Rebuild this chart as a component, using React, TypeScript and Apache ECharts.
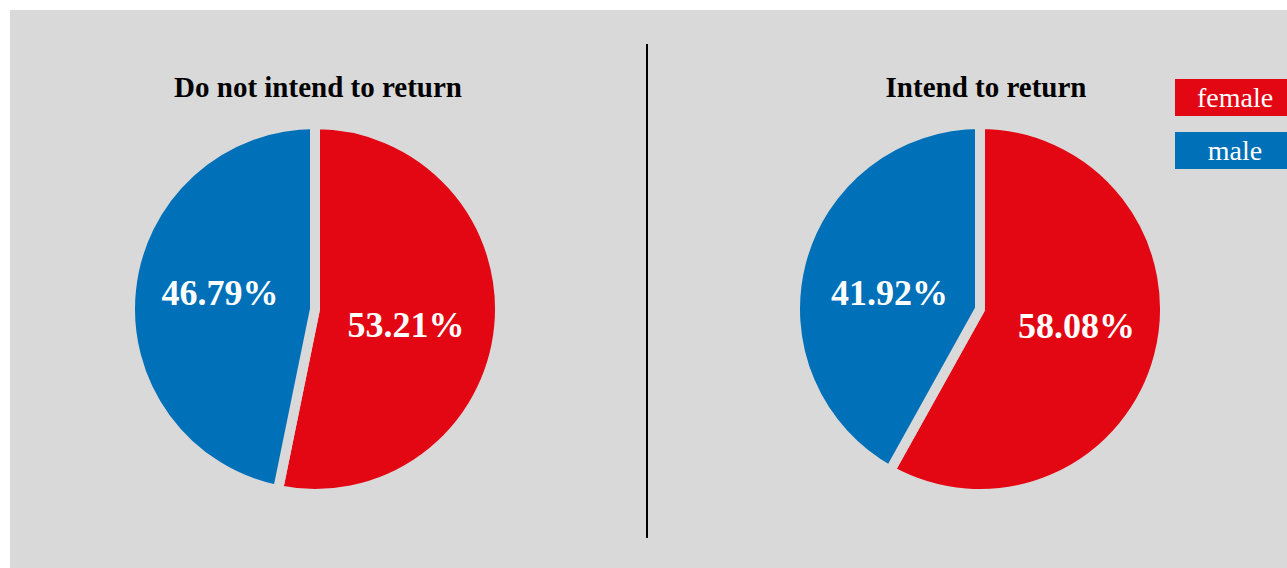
import React, { useEffect, useRef } from "react";
import * as echarts from "echarts";

const categories = ["female", "male"];
const colors = ["#e30613", "#0070b8"];
const panelTitles = ["Do not intend to return", "Intend to return"];
const notIntendValues = [53.21, 46.79];
const intendValues = [58.08, 41.92];

const BG = "#d9d9d9";
const FONT = "'Liberation Serif', 'DejaVu Serif', serif";
// small label nudges per panel / slice (layout only)
const labelOffsets = [
  [[-4, 6], [0, -6]],
  [[4, -7], [2, 8]],
];

export default function App() {
  const ref = useRef<HTMLDivElement>(null);
  useEffect(() => {
    if (!ref.current) return;
    const chart = echarts.init(ref.current, null, { renderer: "svg" });
    const centers = [[305, 299], [970, 299]];
    const valueSets = [notIntendValues, intendValues];
    const series = valueSets.map((vals, i) => ({
      type: "pie",
      center: centers[i],
      radius: 185,
      startAngle: 90,
      clockwise: true,
      silent: true,
      itemStyle: { borderColor: BG, borderWidth: 10 },
      label: {
        show: true,
        position: "inside",
        formatter: (p: any) => p.value.toFixed(2) + "%",
        color: "#ffffff",
        fontFamily: FONT,
        fontWeight: "bold",
        fontSize: 36,
      },
      labelLine: { show: false },
      data: categories.map((c, j) => ({
        name: c,
        value: vals[j],
        itemStyle: { color: colors[j] },
        label: { offset: labelOffsets[i][j] },
      })),
    }));
    const graphics: any[] = [];
    panelTitles.forEach((t, i) => {
      graphics.push({
        type: "text",
        x: i === 0 ? 308 : 976,
        y: 77,
        style: {
          text: t,
          align: "center",
          verticalAlign: "middle",
          font: `bold 29px ${FONT}`,
          fill: "#000",
        },
      });
    });
    graphics.push({
      type: "line",
      shape: { x1: 637, y1: 34, x2: 637, y2: 528 },
      style: { stroke: "#000", lineWidth: 2 },
    });
    categories.forEach((c, j) => {
      const y = 69 + j * 53;
      graphics.push({
        type: "rect",
        shape: { x: 1165, y, width: 112, height: 37 },
        style: { fill: colors[j] },
      });
      graphics.push({
        type: "text",
        x: 1225,
        y: y + 18.5,
        style: {
          text: c,
          align: "center",
          verticalAlign: "middle",
          font: `28px ${FONT}`,
          fill: "#fff",
        },
      });
    });
    chart.setOption({
      animation: false,
      backgroundColor: BG,
      series,
      graphic: graphics,
    });
    return () => chart.dispose();
  }, []);
  return (
    <div
      ref={ref}
      style={{ position: "absolute", left: 10, top: 10, width: 1277, height: 558 }}
    />
  );
}
